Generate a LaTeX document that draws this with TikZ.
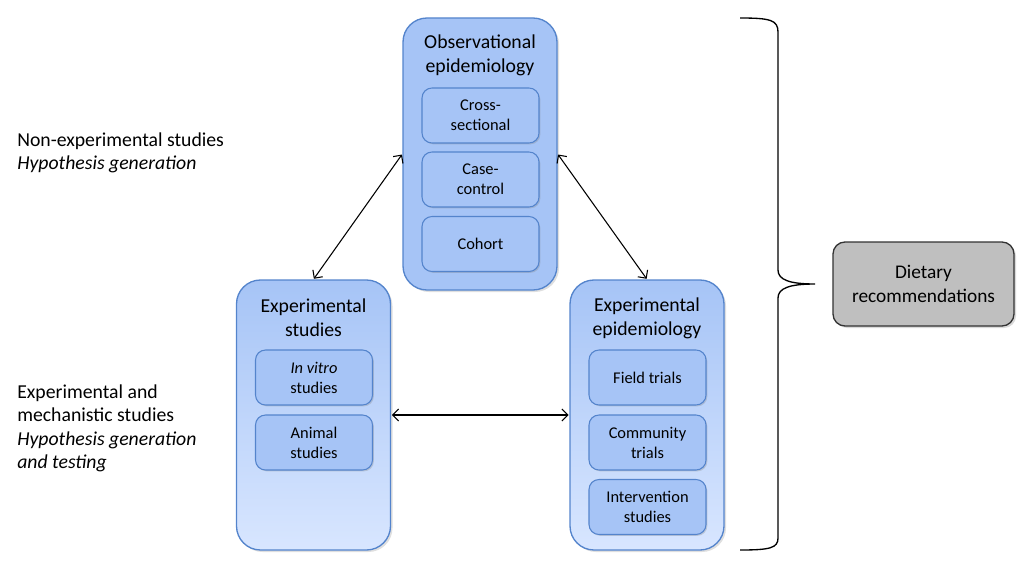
\documentclass[tikz,border=0pt]{standalone}
\usepackage{fontspec}
\setmainfont{Carlito}
\usetikzlibrary{arrows.meta,shadows}

\definecolor{boxblue}{RGB}{166,196,246}
\definecolor{boxpale}{RGB}{216,230,255}
\definecolor{boxline}{RGB}{84,132,204}
\definecolor{recgray}{RGB}{191,191,191}

\tikzset{
  outerbox/.style={draw=boxline, line width=1pt, fill=boxblue, rounded corners=18pt,
    minimum width=115.5pt, minimum height=204pt,
    drop shadow={opacity=0.25, shadow xshift=1.5pt, shadow yshift=-1.5pt}},
  fadebox/.style={outerbox, top color=boxblue, middle color=boxblue, bottom color=boxpale,
    minimum height=202.5pt},
  innerbox/.style={draw=boxline, line width=0.8pt, fill=boxblue, rounded corners=7.5pt,
    minimum width=87.75pt, minimum height=41.25pt, align=center,
    font=\fontsize{12.3}{15}\selectfont,
    drop shadow={opacity=0.3, shadow xshift=1pt, shadow yshift=-1pt}},
  titletext/.style={align=center, font=\fontsize{14.8}{18}\selectfont},
  sidetext/.style={anchor=west, align=left, inner sep=0pt, font=\fontsize{14.8}{17.6}\selectfont},
  link/.style={{Straight Barb[length=4.5pt,width=9pt]}-{Straight Barb[length=4.5pt,width=9pt]},
    line width=0.8pt, shorten <=0.5pt, shorten >=0.5pt}
}

\begin{document}
\begin{tikzpicture}[x=0.75pt,y=0.75pt,yscale=-1,xscale=1]
\useasboundingbox (0,0) rectangle (1024,567);

% Observational epidemiology
\node [outerbox] (obs) at (480,154) {};
\node [titletext] (obsT) at (480,55) {Observational\\epidemiology};
\node [innerbox] (cross) at (480.5,115.5) {Cross-\\sectional};
\node [innerbox] (casec) at (480.5,179.5) {Case-\\control};
\node [innerbox] (cohort) at (480.5,244) {Cohort};

% Experimental studies
\node [fadebox] (expS) at (313.5,415) {};
\node [titletext] (expST) at (313.5,318) {Experimental\\studies};
\node [innerbox] (vitro) at (314,377.5) {\textit{In vitro}\\studies};
\node [innerbox] (animal) at (314,442.5) {Animal\\studies};

% Experimental epidemiology
\node [fadebox] (expE) at (647,415) {};
\node [titletext] (expET) at (647,318) {Experimental\\epidemiology};
\node [innerbox] (field) at (647.5,377.5) {Field trials};
\node [innerbox] (commun) at (647.5,442.5) {Community\\trials};
\node [innerbox] (interv) at (647.5,507) {Intervention\\studies};

% Dietary recommendations
\node [draw=black!80, line width=1pt, fill=recgray, rounded corners=9pt,
  minimum width=135.75pt, minimum height=63pt, align=center, font=\fontsize{14.5}{17.5}\selectfont,
  drop shadow={opacity=0.3, shadow xshift=1.5pt, shadow yshift=-1.5pt}] (diet) at (923.5,284) {Dietary\\recommendations};

% side labels
\node [sidetext] (nonexp) at (17,153) {Non-experimental studies\\\textit{Hypothesis generation}};
\node [sidetext] (mech) at (17,428.5) {Experimental and\\mechanistic studies\\\textit{Hypothesis generation}\\\textit{and testing}};

% links
\draw [link] (obs.west) -- (expS.north);
\draw [link] (obs.east) -- (expE.north);
\draw [link] (expS.east) -- (expE.west);

% brace
\draw [line width=1pt] (740,18) .. controls (770,18) and (778,20) .. (778,32) -- (778,270) .. controls (778,280) and (790,284) .. (815,284) .. controls (790,284) and (778,288) .. (778,298) -- (778,538) .. controls (778,548) and (770,550) .. (740,550);

\end{tikzpicture}
\end{document}
